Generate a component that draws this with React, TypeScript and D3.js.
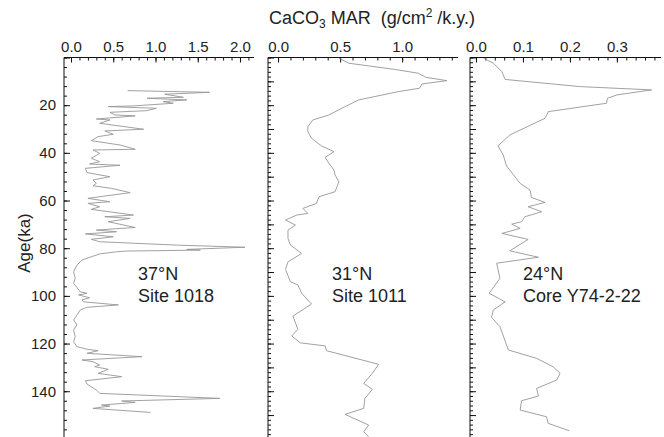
import React, { useEffect, useRef } from "react";
import * as d3 from "d3";

// Site 1018 (37N)
const age1 = [13.9, 14.6, 15.4, 16.7, 17.1, 17.8, 18.5, 19.2, 20.3, 20.6, 21.3, 22.3, 23.0, 24.1, 24.5, 25.8, 26.2, 27.6, 30.1, 30.8, 32.2, 33.2, 34.9, 36.7, 38.5, 38.8, 40.2, 42.3, 43.7, 44.7, 45.2, 46.5, 48.3, 50.0, 51.4, 52.8, 53.8, 54.9, 56.7, 58.4, 59.1, 60.5, 61.2, 62.6, 63.7, 66.1, 66.8, 67.5, 68.9, 71.3, 72.4, 73.1, 74.0, 75.2, 76.3, 77.3, 78.7, 79.6, 80.5, 80.8, 81.2, 81.5, 82.4, 84.2, 85.0, 87.1, 89.9, 92.6, 94.7, 98.3, 98.9, 99.6, 100.8, 101.7, 102.5, 103.8, 104.8, 105.9, 108.0, 110.1, 112.2, 114.3, 117.1, 119.2, 121.3, 122.4, 123.0, 124.1, 125.5, 126.9, 127.6, 129.0, 129.7, 130.8, 132.5, 133.9, 135.6, 137.0, 139.5, 140.9, 143.0, 144.1, 144.7, 145.8, 146.2, 147.2, 148.9];
const mar1 = [0.67, 1.64, 1.11, 1.33, 0.9, 1.37, 1.09, 1.21, 0.74, 0.44, 1.01, 0.9, 0.46, 0.52, 0.76, 0.30, 0.46, 0.34, 0.86, 0.40, 0.50, 0.32, 0.24, 0.58, 0.76, 0.26, 0.34, 0.24, 0.34, 0.22, 0.58, 0.17, 0.19, 0.46, 0.26, 0.30, 0.26, 0.48, 0.70, 0.34, 0.20, 0.46, 0.20, 0.34, 0.24, 0.74, 0.40, 0.70, 0.44, 0.76, 0.30, 0.54, 0.17, 0.50, 0.24, 0.34, 1.25, 2.06, 1.37, 1.53, 0.66, 0.54, 0.34, 0.19, 0.13, 0.07, 0.03, 0.05, 0.03, 0.11, 0.19, 0.09, 0.22, 0.13, 0.15, 0.56, 0.19, 0.11, 0.07, 0.03, 0.07, 0.03, 0.05, 0.03, 0.07, 0.19, 0.32, 0.19, 0.84, 0.13, 0.26, 0.34, 0.28, 0.44, 0.32, 0.60, 0.17, 0.19, 0.30, 0.34, 1.76, 0.60, 0.76, 0.36, 0.46, 0.26, 0.94];

// Site 1011 (31N)
const age2 = [0.3, 2.4, 5.0, 6.6, 8.3, 9.7, 11.1, 12.9, 14.3, 17.8, 20.6, 24.1, 26.2, 29.0, 31.1, 33.9, 37.1, 39.5, 41.9, 44.4, 47.2, 49.3, 52.1, 56.3, 58.4, 61.2, 63.3, 65.4, 66.1, 68.2, 70.3, 72.4, 75.9, 78.7, 82.2, 85.7, 88.9, 94.1, 95.4, 98.9, 103.4, 108.5, 114.0, 116.8, 119.7, 121.0, 123.0, 128.7, 132.5, 136.7, 139.2, 143.0, 147.2, 149.7, 154.2, 157.0, 159.1];
const mar2 = [0.49, 0.57, 0.94, 1.13, 1.19, 1.36, 1.16, 1.14, 0.97, 0.65, 0.54, 0.41, 0.28, 0.24, 0.24, 0.27, 0.35, 0.45, 0.38, 0.41, 0.45, 0.46, 0.49, 0.46, 0.33, 0.31, 0.20, 0.24, 0.15, 0.06, 0.14, 0.08, 0.08, 0.10, 0.19, 0.08, 0.06, 0.10, 0.16, 0.19, 0.27, 0.12, 0.16, 0.11, 0.18, 0.38, 0.39, 0.81, 0.76, 0.69, 0.76, 0.70, 0.69, 0.54, 0.73, 0.69, 0.73];

// Core Y74-2-22 (24N)
const age3 = [0.3, 2.4, 5.9, 9.2, 12.2, 13.6, 15.7, 17.1, 19.2, 22.7, 25.5, 32.5, 37.1, 40.9, 45.5, 52.8, 55.6, 58.7, 60.8, 62.6, 64.7, 66.8, 68.9, 69.9, 71.7, 73.8, 76.3, 81.1, 83.8, 86.3, 92.6, 98.9, 102.5, 105.9, 109.0, 112.9, 122.7, 126.2, 129.7, 132.5, 135.3, 138.8, 142.0, 144.0, 147.9, 150.7, 153.5, 156.6];
const mar3 = [0.016, 0.037, 0.055, 0.062, 0.221, 0.374, 0.30, 0.28, 0.278, 0.154, 0.147, 0.072, 0.047, 0.058, 0.065, 0.094, 0.115, 0.118, 0.147, 0.111, 0.14, 0.104, 0.097, 0.076, 0.094, 0.055, 0.111, 0.072, 0.133, 0.044, 0.051, 0.028, 0.062, 0.037, 0.033, 0.051, 0.069, 0.129, 0.164, 0.179, 0.172, 0.129, 0.133, 0.097, 0.094, 0.15, 0.154, 0.199];

const ageTicks = [20, 40, 60, 80, 100, 120, 140];
const ticks1 = [0, 0.5, 1.0, 1.5, 2.0];
const ticks2 = [0, 0.5, 1.0];
const ticks3 = [0, 0.1, 0.2, 0.3];
const sites = [
  ["37°N", "Site 1018"],
  ["31°N", "Site 1011"],
  ["24°N", "Core Y74-2-22"],
];

const FONT = "'Liberation Sans', Arial, Helvetica, sans-serif";

const App = () => {
  const ref = useRef(null);

  useEffect(() => {
    const svg = d3.select(ref.current);
    svg.selectAll("*").remove();

    const y = d3.scaleLinear().domain([0, 160]).range([57.5, 438.9]);

    const panels = [
      { x0: 64, x1: 254, dom: [-0.083, 2.166], ages: age1, vals: mar1, ticks: ticks1, minor: 0.1, yMinor: 4, yMajor: 20 },
      { x0: 268, x1: 458, dom: [-0.081, 1.45], ages: age2, vals: mar2, ticks: ticks2, minor: 0.1, yMinor: 2, yMajor: 10 },
      { x0: 470, x1: 661, dom: [-0.0128, 0.394], ages: age3, vals: mar3, ticks: ticks3, minor: 0.02, yMinor: 2, yMajor: 10 },
    ];

    panels.forEach((p, i) => {
      const x = d3.scaleLinear().domain(p.dom).range([p.x0, p.x1]);
      const g = svg.append("g");

      // minor ticks on top
      const minorVals = d3.range(Math.ceil(p.dom[0] / p.minor), Math.floor(p.dom[1] / p.minor) + 1).map((k) => k * p.minor);
      g.append("g")
        .attr("transform", `translate(0,${y(0)})`)
        .call(d3.axisTop(x).tickValues(minorVals).tickSizeInner(-3).tickSizeOuter(0).tickFormat(() => ""))
        .call((a) => a.select(".domain").remove());

      // major ticks + labels on top
      g.append("g")
        .attr("transform", `translate(0,${y(0)})`)
        .call(d3.axisTop(x).tickValues(p.ticks).tickSizeInner(-5).tickSizeOuter(0).tickPadding(6).tickFormat(d3.format(".1f")))
        .call((a) => a.select(".domain").attr("d", `M${p.x0},0H${p.x1}`))
        .call((a) => a.selectAll("text").attr("font-size", 15).attr("font-family", FONT).attr("fill", "#222"));

      // left axis: minor ticks
      const yMinorVals = d3.range(0, 161, p.yMinor);
      g.append("g")
        .attr("transform", `translate(${p.x0},0)`)
        .call(d3.axisLeft(y).tickValues(yMinorVals).tickSizeInner(-3).tickSizeOuter(0).tickFormat(() => ""))
        .call((a) => a.select(".domain").attr("d", `M0,${y(0)}V${y(160)}`));

      g.append("g")
        .attr("transform", `translate(${p.x0},0)`)
        .call(d3.axisLeft(y).tickValues(d3.range(0, 161, p.yMajor)).tickSizeInner(-6).tickSizeOuter(0).tickFormat(() => ""))
        .call((a) => a.select(".domain").remove());

      if (i === 0) {
        g.append("g")
          .attr("transform", `translate(${p.x0},0)`)
          .call(d3.axisLeft(y).tickValues(ageTicks).tickSize(0).tickPadding(8).tickFormat(d3.format("d")))
          .call((a) => a.select(".domain").remove())
          .call((a) => a.selectAll("text").attr("font-size", 15).attr("font-family", FONT).attr("fill", "#222"));
      }

      g.selectAll(".tick line").attr("stroke", "#111").attr("stroke-width", 1);
      g.selectAll(".domain").attr("stroke", "#111").attr("stroke-width", 1);

      const line = d3
        .line()
        .x((d) => x(d[1]))
        .y((d) => y(d[0]));

      g.append("path")
        .datum(p.ages.map((a, k) => [a, p.vals[k]]))
        .attr("d", line)
        .attr("fill", "none")
        .attr("stroke", "#969696")
        .attr("stroke-width", 0.9)
        .attr("stroke-linejoin", "round");

      const lx = [138, 332, 523][i];
      const lab = g.append("text").attr("font-family", FONT).attr("font-size", 18).attr("fill", "#222");
      lab.append("tspan").attr("x", lx).attr("y", 280).text(sites[i][0]);
      lab.append("tspan").attr("x", lx).attr("y", 302).text(sites[i][1]);
    });

    // title
    const t = svg
      .append("text")
      .attr("x", 372)
      .attr("y", 24)
      .attr("text-anchor", "middle")
      .attr("font-family", FONT)
      .attr("font-size", 18)
      .attr("fill", "#222")
      .style("white-space", "pre");
    t.append("tspan").text("CaCO");
    t.append("tspan").attr("font-size", 12).attr("dy", 4).text("3");
    t.append("tspan").attr("dy", -4).text(" MAR  (g/cm");
    t.append("tspan").attr("font-size", 12).attr("dy", -7).text("2");
    t.append("tspan").attr("dy", 7).text(" /k.y.)");

    svg
      .append("text")
      .attr("transform", "translate(30,243) rotate(-90)")
      .attr("text-anchor", "middle")
      .attr("font-family", FONT)
      .attr("font-size", 17)
      .attr("fill", "#222")
      .text("Age(ka)");
  }, []);

  return (
    <svg
      ref={ref}
      width={664}
      height={437}
      style={{ position: "absolute", left: 0, top: 0, background: "#fff" }}
    />
  );
};

export default App;
